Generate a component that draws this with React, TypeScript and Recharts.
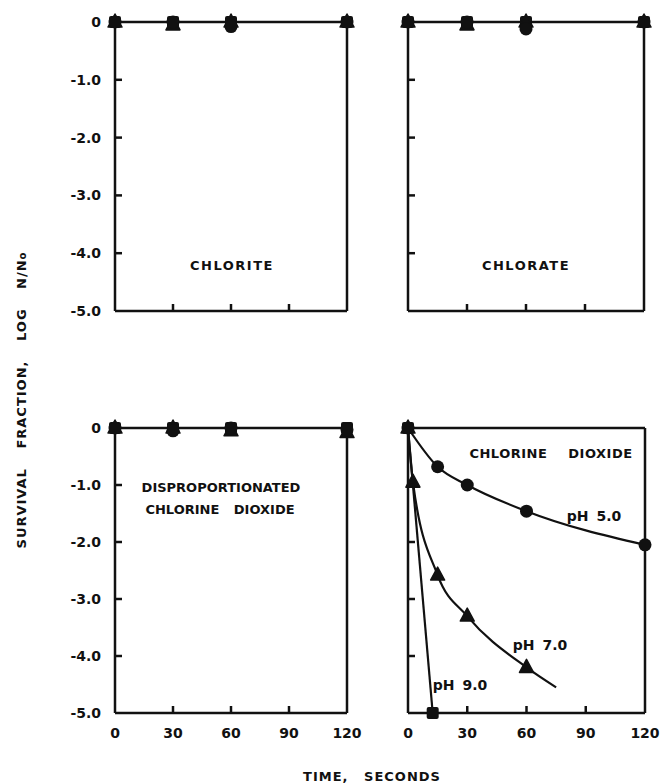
import { ComposedChart, Line, Scatter, XAxis, YAxis } from 'recharts'
import type { ReactNode } from 'react'

// shared axes
const timeTicks = [0, 30, 60, 90, 120]
const innerTimeTicks = [30, 60, 90]
const logTicks = [0, -1, -2, -3, -4, -5]
const innerLogTicks = [-1, -2, -3, -4]
const logTickLabels: Record<number, string> = { 0: '0', [-1]: '-1.0', [-2]: '-2.0', [-3]: '-3.0', [-4]: '-4.0', [-5]: '-5.0' }

// control panels, sampled at the same times
const controlTimes = [0, 30, 60, 120]

const chloriteCircle = [0, 0, -0.08, 0]
const chloriteTriangle = [0, -0.05, 0, 0]
const chloriteSquare = [0, 0, 0, 0]

const chlorateCircle = [0, 0, -0.12, 0]
const chlorateTriangle = [0, -0.05, 0, 0]
const chlorateSquare = [0, 0, 0, 0]

const dispCircle = [0, -0.05, 0, -0.03]
const dispTriangle = [0, 0, -0.05, -0.08]
const dispSquare = [0, 0, 0, 0]

// chlorine dioxide
const ph5Times = [0, 15, 30, 60, 120]
const ph5Values = [0, -0.68, -1.0, -1.46, -2.05]

const ph7Times = [0, 2.5, 15, 30, 60]
const ph7Values = [0, -0.95, -2.58, -3.3, -4.2]
const ph7CurveTimes = [0, 2.5, 15, 30, 60, 75]
const ph7CurveValues = [0, -0.95, -2.58, -3.3, -4.2, -4.55]

const ph9Times = [0, 12.5]
const ph9Values = [0, -5.0]

const INK = '#111'
const FONT = '"DejaVu Sans", sans-serif'
const TICK = 7
const M = 4

const pts = (xs: number[], ys: number[]) => xs.map((x, i) => ({ x, y: ys[i] }))

const circle = (p: any) => <circle cx={p.cx} cy={p.cy} r={6.5} fill={INK} />
const square = (p: any) => <rect x={p.cx - 6} y={p.cy - 6} width={12} height={12} rx={2} fill={INK} />
const triangle = (p: any) => (
  <path d={`M${p.cx},${p.cy - 8} L${p.cx + 7},${p.cy + 5} L${p.cx - 7},${p.cy + 5} Z`} fill={INK} strokeLinejoin="round" stroke={INK} strokeWidth={1.5} />
)

type Series = { data: { x: number; y: number }[]; shape?: (p: any) => ReactNode; curve?: boolean }

interface PanelProps {
  x: number
  y: number
  w: number
  h: number
  xLabels: boolean
  yLabels: boolean
  series: Series[]
}

const LW = 50
const RW = 24
const TH = 12
const BH = 32

function Panel({ x, y, w, h, xLabels, yLabels, series }: PanelProps) {
  const bottomTick = (p: any) => {
    const ay = p.y - M
    const v = p.payload.value
    return (
      <g>
        {innerTimeTicks.includes(v) && <line x1={p.x} x2={p.x} y1={ay} y2={ay - TICK} stroke={INK} strokeWidth={2.5} />}
        {xLabels && (
          <text x={p.x} y={ay + 20} textAnchor="middle" dominantBaseline="central" fontSize={14} fontWeight="bold" fontFamily={FONT} fill={INK}>
            {v}
          </text>
        )}
      </g>
    )
  }
  const topTick = (p: any) => {
    const ay = p.y + M
    return <line x1={p.x} x2={p.x} y1={ay} y2={ay + TICK} stroke={INK} strokeWidth={2.5} />
  }
  const leftTick = (p: any) => {
    const ax = p.x + M
    const v = p.payload.value
    return (
      <g>
        {innerLogTicks.includes(v) && <line x1={ax} x2={ax + TICK} y1={p.y} y2={p.y} stroke={INK} strokeWidth={2.5} />}
        {yLabels && (
          <text x={ax - 14} y={p.y} textAnchor="end" dominantBaseline="central" fontSize={14} fontWeight="bold" fontFamily={FONT} fill={INK}>
            {logTickLabels[v]}
          </text>
        )}
      </g>
    )
  }
  const rightTick = (p: any) => {
    const ax = p.x - M
    return <line x1={ax} x2={ax - TICK} y1={p.y} y2={p.y} stroke={INK} strokeWidth={2.5} />
  }
  const axisLine = { stroke: INK, strokeWidth: 2.5 }

  return (
    <div style={{ position: 'absolute', left: x - LW, top: y - TH }}>
      <ComposedChart width={LW + w + RW} height={TH + h + BH} margin={{ top: 0, right: 0, bottom: 0, left: 0 }}>
        <XAxis dataKey="x" type="number" domain={[0, 120]} ticks={timeTicks} interval={0} height={BH}
          tickLine={false} tickSize={0} tickMargin={M} axisLine={axisLine} tick={bottomTick} />
        <XAxis xAxisId="top" orientation="top" dataKey="x" type="number" domain={[0, 120]} ticks={innerTimeTicks} interval={0} height={TH}
          tickLine={false} tickSize={0} tickMargin={M} axisLine={axisLine} tick={topTick} />
        <YAxis dataKey="y" type="number" domain={[-5, 0]} ticks={logTicks} interval={0} width={LW}
          tickLine={false} tickSize={0} tickMargin={M} axisLine={axisLine} tick={leftTick} />
        <YAxis yAxisId="right" orientation="right" dataKey="y" type="number" domain={[-5, 0]} ticks={innerLogTicks} interval={0} width={RW}
          tickLine={false} tickSize={0} tickMargin={M} axisLine={axisLine} tick={rightTick} />
        {series.filter(s => s.curve).map((s, i) => (
          <Line key={'l' + i} data={s.data} dataKey="y" type="monotone" stroke={INK} strokeWidth={2.2} dot={false} isAnimationActive={false} />
        ))}
        {series.filter(s => s.shape).map((s, i) => (
          <Scatter key={'s' + i} data={s.data} dataKey="y" shape={s.shape as any} isAnimationActive={false} />
        ))}
      </ComposedChart>
    </div>
  )
}

function Caption({ x, y, children, size = 13, spacing = 0, wordSpacing = 0 }: { x: number; y: number; children: ReactNode; size?: number; spacing?: number; wordSpacing?: number }) {
  return (
    <div style={{ position: 'absolute', left: x, top: y, transform: 'translate(-50%, -50%)', whiteSpace: 'nowrap', fontFamily: FONT, fontWeight: 'bold', fontSize: size, letterSpacing: spacing, wordSpacing, color: INK, lineHeight: 1 }}>
      {children}
    </div>
  )
}

export default function App() {
  return (
    <div style={{ position: 'absolute', left: 0, top: 0, width: 660, height: 783, background: '#fff', overflow: 'hidden' }}>
      <Panel x={115} y={22} w={232} h={289} xLabels={false} yLabels={true} series={[
        { data: pts(controlTimes, chloriteSquare), shape: square },
        { data: pts(controlTimes, chloriteTriangle), shape: triangle },
        { data: pts(controlTimes, chloriteCircle), shape: circle },
      ]} />
      <Panel x={408} y={22} w={236} h={289} xLabels={false} yLabels={false} series={[
        { data: pts(controlTimes, chlorateSquare), shape: square },
        { data: pts(controlTimes, chlorateTriangle), shape: triangle },
        { data: pts(controlTimes, chlorateCircle), shape: circle },
      ]} />
      <Panel x={115} y={428} w={232} h={285} xLabels={true} yLabels={true} series={[
        { data: pts(controlTimes, dispSquare), shape: square },
        { data: pts(controlTimes, dispTriangle), shape: triangle },
        { data: pts(controlTimes, dispCircle), shape: circle },
      ]} />
      <Panel x={408} y={428} w={237} h={285} xLabels={true} yLabels={false} series={[
        { data: pts(ph5Times, ph5Values), curve: true },
        { data: pts(ph7CurveTimes, ph7CurveValues), curve: true },
        { data: pts(ph9Times, ph9Values), curve: true },
        { data: pts(ph5Times, ph5Values), shape: circle },
        { data: pts(ph7Times, ph7Values), shape: triangle },
        { data: pts(ph9Times, ph9Values), shape: square },
      ]} />

      <Caption x={232} y={265} spacing={1.5}>CHLORITE</Caption>
      <Caption x={526} y={265} spacing={1.5}>CHLORATE</Caption>
      <Caption x={221} y={487}>DISPROPORTIONATED</Caption>
      <Caption x={220} y={509} wordSpacing={10}>CHLORINE DIOXIDE</Caption>
      <Caption x={551} y={453} spacing={0.5} wordSpacing={16}>CHLORINE DIOXIDE</Caption>
      <Caption x={594} y={516} size={14} wordSpacing={3}>pH 5.0</Caption>
      <Caption x={540} y={645} size={14} wordSpacing={3}>pH 7.0</Caption>
      <Caption x={460} y={685} size={14} wordSpacing={3}>pH 9.0</Caption>
      <Caption x={372} y={776} spacing={1} wordSpacing={10}>TIME, SECONDS</Caption>
      <div style={{ position: 'absolute', left: 21, top: 400, transform: 'translate(-50%, -50%) rotate(-90deg)', whiteSpace: 'nowrap', fontFamily: FONT, fontWeight: 'bold', fontSize: 13, letterSpacing: 1, wordSpacing: 14, color: INK, lineHeight: 1 }}>
        SURVIVAL FRACTION, LOG N/N<span style={{ fontSize: 10 }}>o</span>
      </div>
    </div>
  )
}
